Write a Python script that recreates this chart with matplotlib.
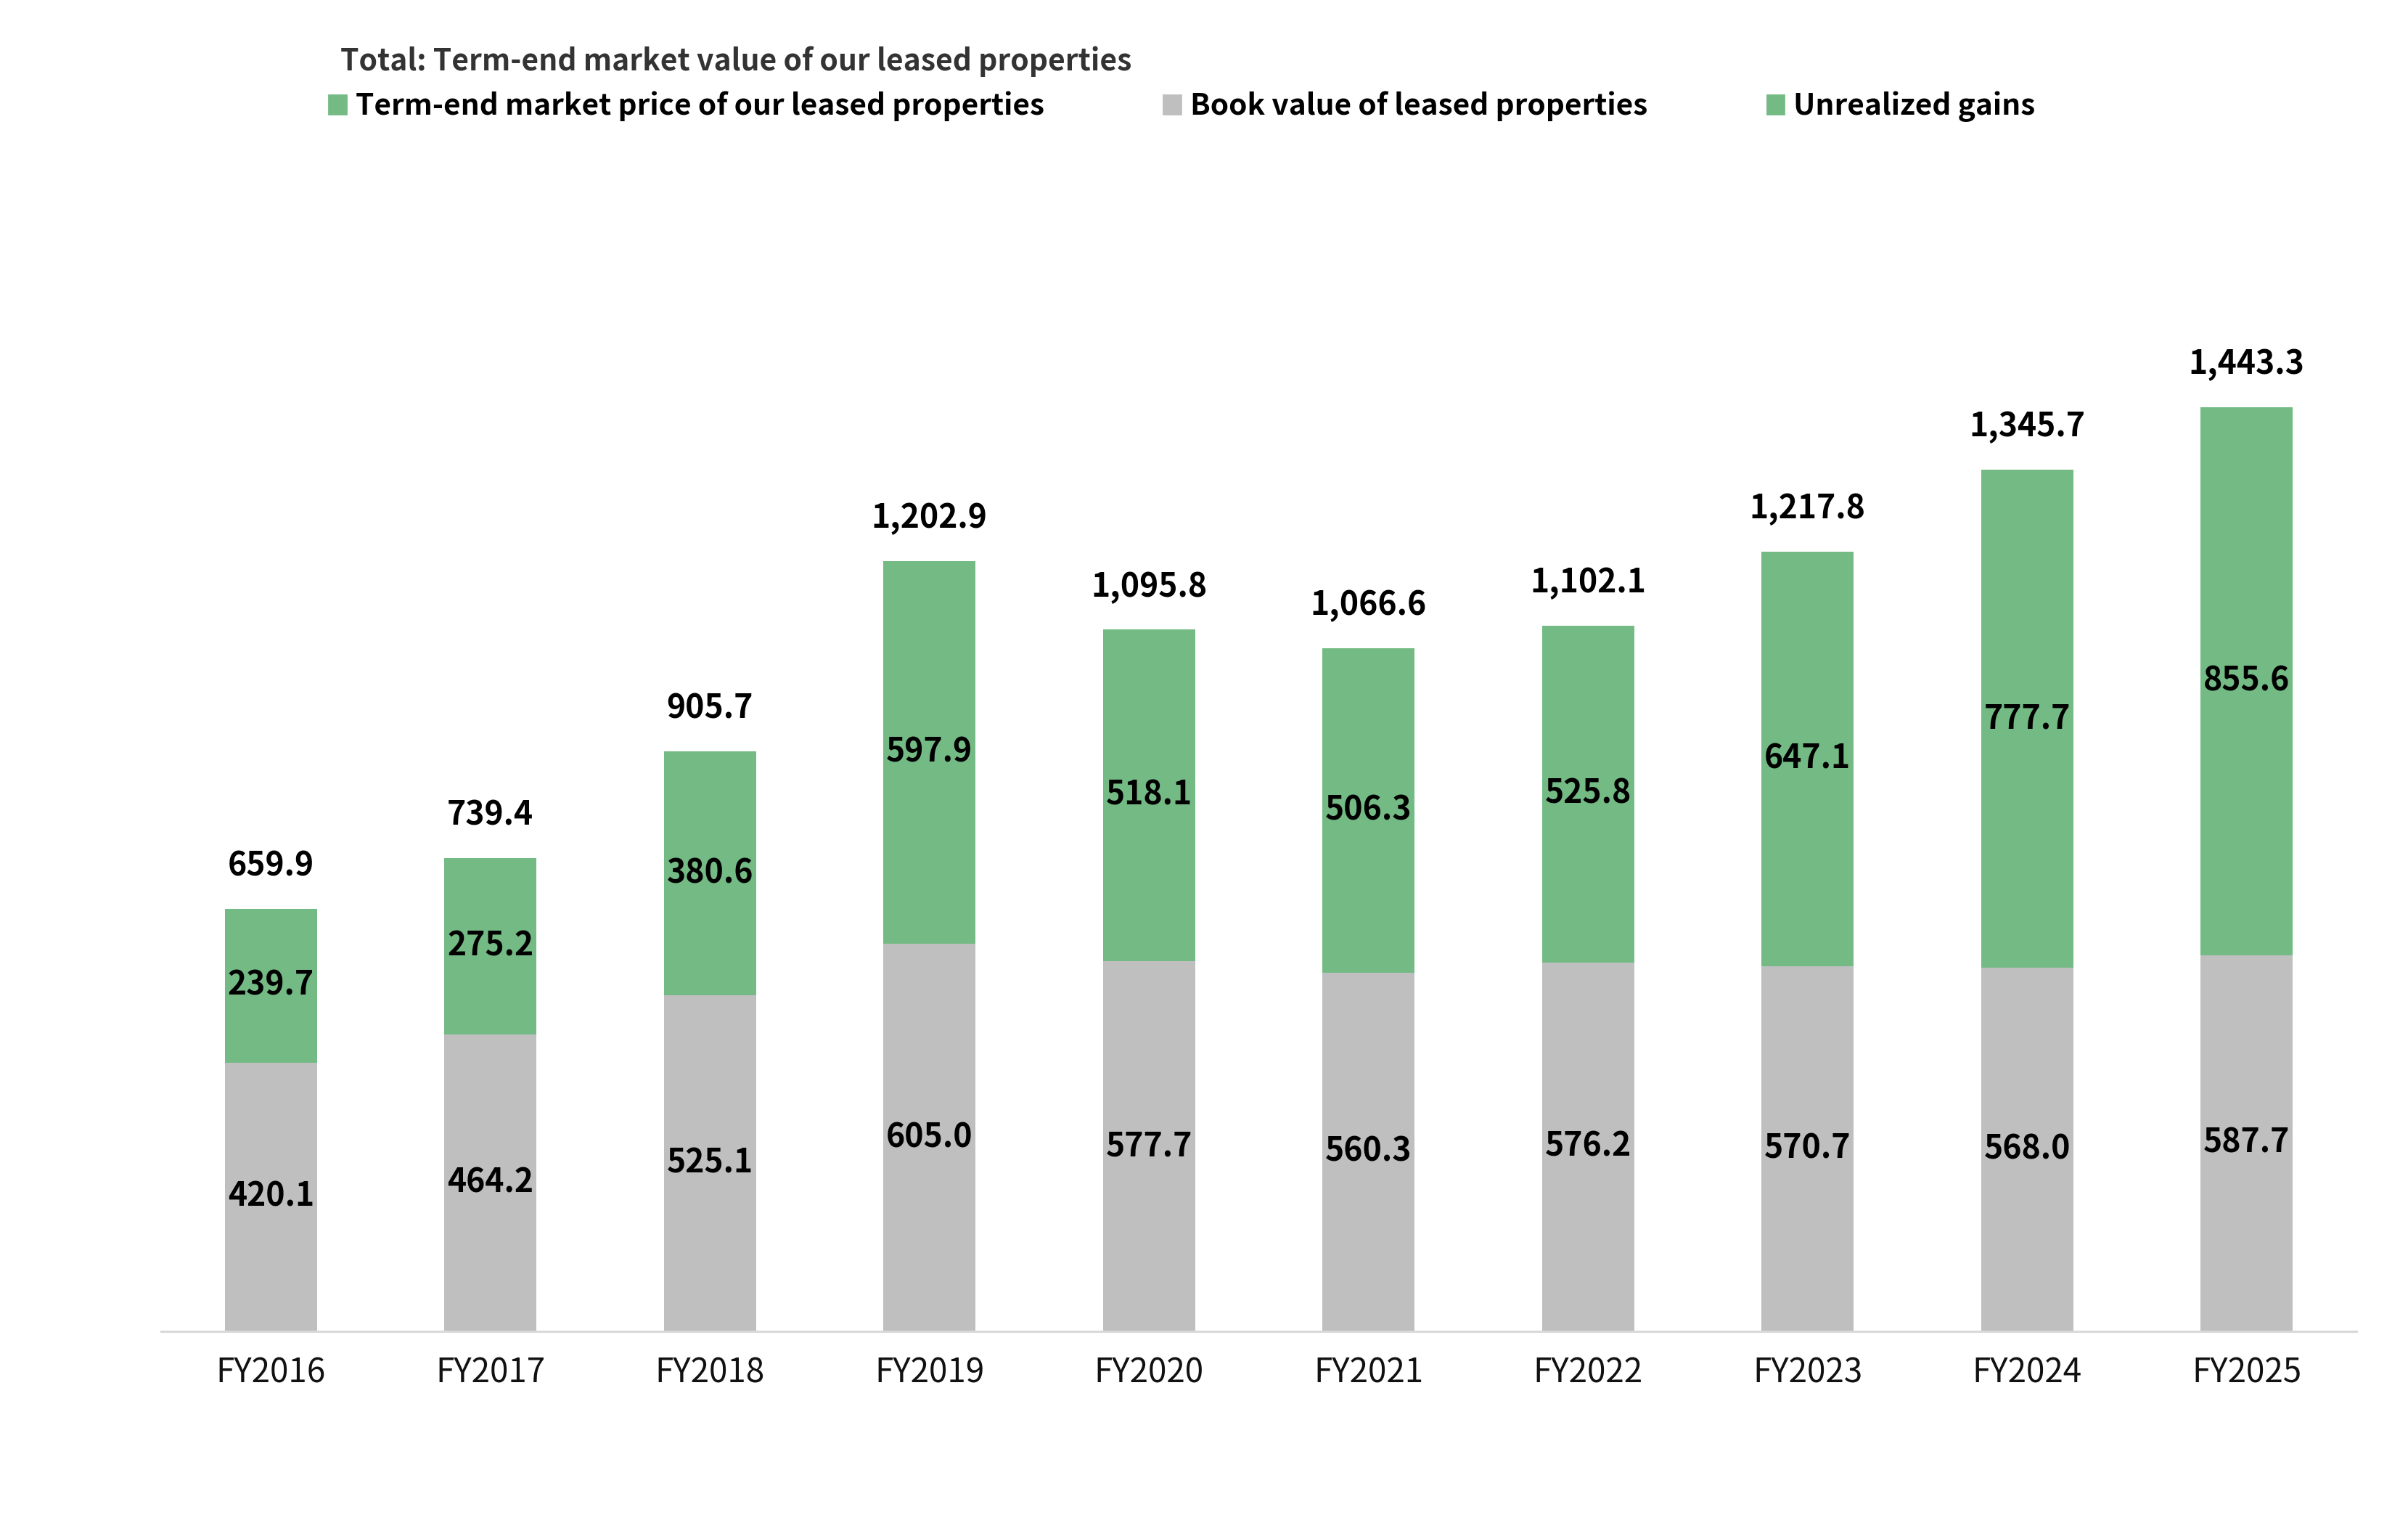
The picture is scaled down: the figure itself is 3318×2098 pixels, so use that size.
import matplotlib
matplotlib.use("Agg")
import matplotlib.pyplot as plt
from matplotlib.patches import Patch
import numpy as np

plt.rcParams['font.family'] = ['Noto Sans CJK JP', 'DejaVu Sans']

# values (billion yen)
years = ["FY2016", "FY2017", "FY2018", "FY2019", "FY2020",
         "FY2021", "FY2022", "FY2023", "FY2024", "FY2025"]
book_value = [420.1, 464.2, 525.1, 605.0, 577.7, 560.3, 576.2, 570.7, 568.0, 587.7]
unrealized = [239.7, 275.2, 380.6, 597.9, 518.1, 506.3, 525.8, 647.1, 777.7, 855.6]
market_total = [659.9, 739.4, 905.7, 1202.9, 1095.8, 1066.6, 1102.1, 1217.8, 1345.7, 1443.3]

green = "#73BA84"
gray = "#BFBFBF"

fig = plt.figure(figsize=(16.59, 10.49), dpi=200)
ax = fig.add_axes([0.0669, 0.1258, 0.9117, 0.7568])

x = np.arange(len(years))
w = 0.42
ax.bar(x, book_value, w, color=gray)
ax.bar(x, unrealized, w, bottom=book_value, color=green)

for i in range(len(years)):
    ax.text(x[i], book_value[i] / 2, f"{book_value[i]:,.1f}", ha='center', va='center',
            fontsize=16, fontweight='bold', color='black')
    ax.text(x[i], book_value[i] + unrealized[i] / 2, f"{unrealized[i]:,.1f}", ha='center',
            va='center', fontsize=16, fontweight='bold', color='black')
    top = book_value[i] + unrealized[i]
    ax.annotate(f"{market_total[i]:,.1f}", (x[i], top), xytext=(0, 16.5),
                textcoords='offset points', ha='center', va='baseline',
                fontsize=16, fontweight='bold', color='black')

ax.set_xlim(-0.5, len(years) - 0.5)
ax.set_ylim(0, 1800)
ax.set_xticks(x)
ax.set_xticklabels(years, fontsize=16.5, color='#111111')
ax.tick_params(axis='x', length=0, pad=12)
ax.set_yticks([])
for s in ['top', 'right', 'left']:
    ax.spines[s].set_visible(False)
ax.spines['bottom'].set_color('#D9D9D9')
ax.spines['bottom'].set_linewidth(1.1)

fig.text(469 / 3318, 1 - 97 / 2098, "Total: Term-end market value of our leased properties",
         fontsize=14.7, fontweight='bold', color='#333333', va='baseline')

handles = [Patch(color=green, label="Term-end market price of our leased properties"),
           Patch(color=gray, label="Book value of leased properties"),
           Patch(color=green, label="Unrealized gains")]
leg = fig.legend(handles=handles, loc='center left', bbox_to_anchor=(453 / 3318, 1 - 147 / 2098),
                 ncol=3, frameon=False, borderpad=0, borderaxespad=0,
                 handlelength=0.59, handleheight=0.59, handletextpad=0.32, columnspacing=4.05,
                 prop={'size': 14.6, 'weight': 'bold'})

fig.savefig("out.png", dpi=200)
